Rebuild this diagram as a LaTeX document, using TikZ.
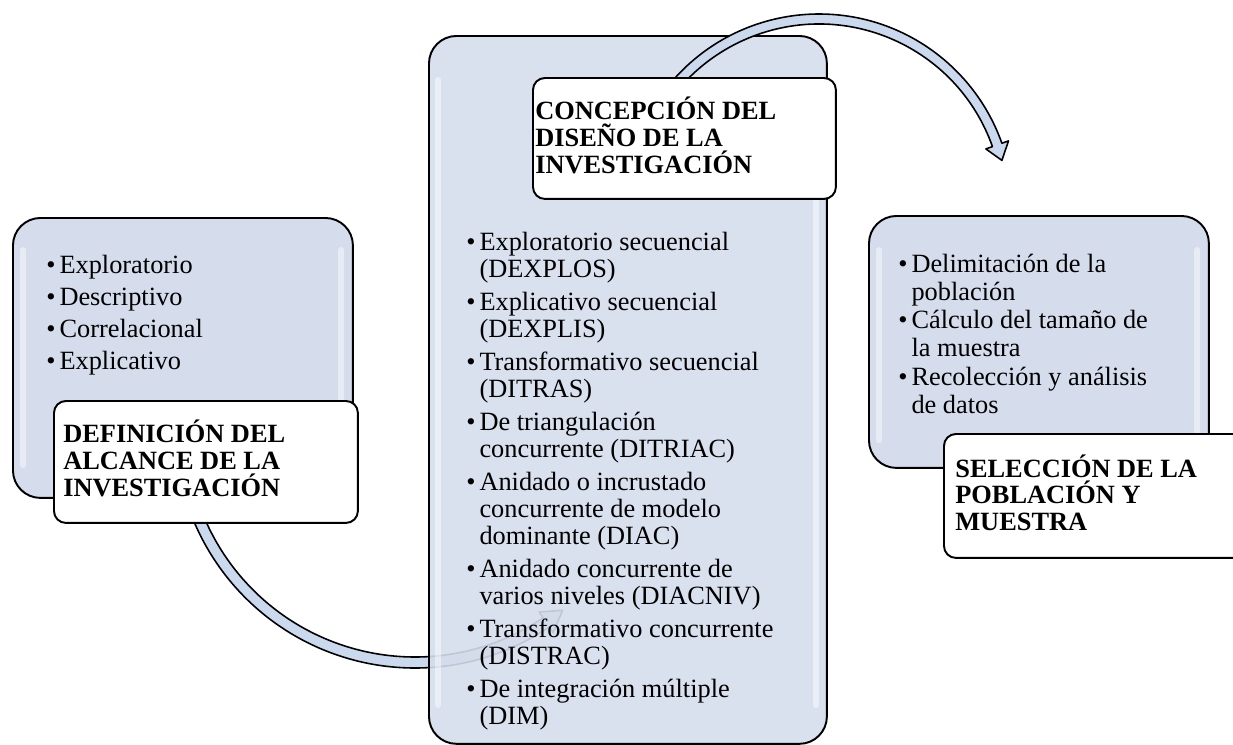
\documentclass[tikz,border=0pt]{standalone}
\usepackage{fontspec}
\setmainfont{Liberation Serif}
\definecolor{panelblue}{HTML}{D5DDEC}
\definecolor{arrowblue}{HTML}{CBD9EF}
% bullet entry with the continuation lines hanging under the text
\newcommand{\listentry}[1]{\par\noindent\hangindent=0.5em\hangafter=1\makebox[0.5em][l]{\textbullet}#1}
\begin{document}
\begin{tikzpicture}[x=0.02cm, y=-0.02cm,
  panel/.style={draw=black, line width=1.1pt, fill=panelblue, rounded corners=0.55cm,
                inner sep=0pt, anchor=north west},
  tag/.style={draw=black, line width=1.1pt, fill=white, rounded corners=0.24cm,
              inner sep=0pt, anchor=north west},
  gloss/.style={draw=white, line width=3.4pt, opacity=0.45, line cap=round},
  blockarrow/.style={draw=black, line width=0.9pt, fill=arrowblue, line join=round},
  listtext/.style={anchor=base west, inner sep=0pt},
  titletext/.style={anchor=base west, inner sep=0pt, font=\bfseries},
]
\useasboundingbox (0,0) rectangle (1233,744);
\clip (0,0) rectangle (1233,744);

% ---- left panel: alcance ----
\node[panel, minimum width=6.8cm, minimum height=5.6cm] (alcance) at (12,217) {};
\draw[gloss] (23,250) -- (23,465);
\draw[gloss] (341,250) -- (341,465);
\node[listtext] (alcanceitems) at (46,273) {\parbox[t]{5.6cm}{\fontsize{15}{18.4}\selectfont\raggedright
  \listentry{Exploratorio}
  \listentry{Descriptivo}
  \listentry{Correlacional}
  \listentry{Explicativo}}};

% curved arrow from the first stage into the second
\coordinate (cl) at (415,428);
\draw[blockarrow] ([shift={(165:240)}]cl) arc[start angle=165, end angle=56, radius=240]
  -- ([shift={(56:247)}]cl) -- ([shift={(51:234.5)}]cl) -- ([shift={(56:222)}]cl)
  -- ([shift={(56:229)}]cl) arc[start angle=56, end angle=165, radius=229] -- cycle;

\node[tag, minimum width=6.08cm, minimum height=2.44cm] (alcancetag) at (53,400) {};
\node[titletext] (alcancetitle) at (63,442) {\parbox[t]{5.8cm}{\fontsize{15}{15.6}\selectfont
  DEFINICIÓN DEL\\ALCANCE DE LA\\INVESTIGACIÓN}};

% ---- central panel: diseño ----
\node[panel, fill opacity=0.9, minimum width=7.96cm, minimum height=14.16cm] (diseno) at (428,35) {};
\draw[gloss] (438,80) -- (438,705);
\draw[gloss] (816,80) -- (816,705);
\node[listtext] (disenoitems) at (466,250) {\parbox[t]{6.6cm}{\fontsize{15}{15.4}\selectfont\raggedright
  \setlength{\parskip}{3.4pt}%
  \listentry{Exploratorio secuencial\newline(DEXPLOS)}
  \listentry{Explicativo secuencial\newline(DEXPLIS)}
  \listentry{Transformativo secuencial\newline(DITRAS)}
  \listentry{De triangulación\newline concurrente (DITRIAC)}
  \listentry{Anidado o incrustado\newline concurrente de modelo\newline dominante (DIAC)}
  \listentry{Anidado concurrente de\newline varios niveles (DIACNIV)}
  \listentry{Transformativo concurrente\newline(DISTRAC)}
  \listentry{De integración múltiple\newline(DIM)}}};

% curved arrow from the second stage to the third
\coordinate (ct) at (819,208);
\draw[blockarrow] ([shift={(-140:194)}]ct) arc[start angle=-140, end angle=-19.5, radius=194]
  -- ([shift={(-19.5:201)}]ct) -- ([shift={(-14.6:189)}]ct) -- ([shift={(-19.5:177)}]ct)
  -- ([shift={(-19.5:184)}]ct) arc[start angle=-19.5, end angle=-140, radius=184] -- cycle;

\node[tag, minimum width=6.06cm, minimum height=2.42cm] (disenotag) at (532,77) {};
\node[titletext] (disenotitle) at (535,119) {\parbox[t]{5.9cm}{\fontsize{15}{15.4}\selectfont
  CONCEPCIÓN DEL\\DISEÑO DE LA\\INVESTIGACIÓN}};

% ---- right panel: población y muestra ----
\node[panel, minimum width=6.8cm, minimum height=5.04cm] (muestra) at (868,215) {};
\draw[gloss] (879,250) -- (879,440);
\draw[gloss] (1197,250) -- (1197,440);
\node[listtext] (muestraitems) at (898,272) {\parbox[t]{5.8cm}{\fontsize{15}{16.1}\selectfont\raggedright
  \listentry{Delimitación de la\newline población}
  \listentry{Cálculo del tamaño de\newline la muestra}
  \listentry{Recolección y análisis\newline de datos}}};

\node[tag, minimum width=6.14cm, minimum height=2.48cm] (muestratag) at (943,433) {};
\node[titletext] (muestratitle) at (955,477) {\parbox[t]{5.6cm}{\fontsize{15}{15.3}\selectfont
  SELECCIÓN DE LA\\POBLACIÓN Y\\MUESTRA}};
\end{tikzpicture}
\end{document}
